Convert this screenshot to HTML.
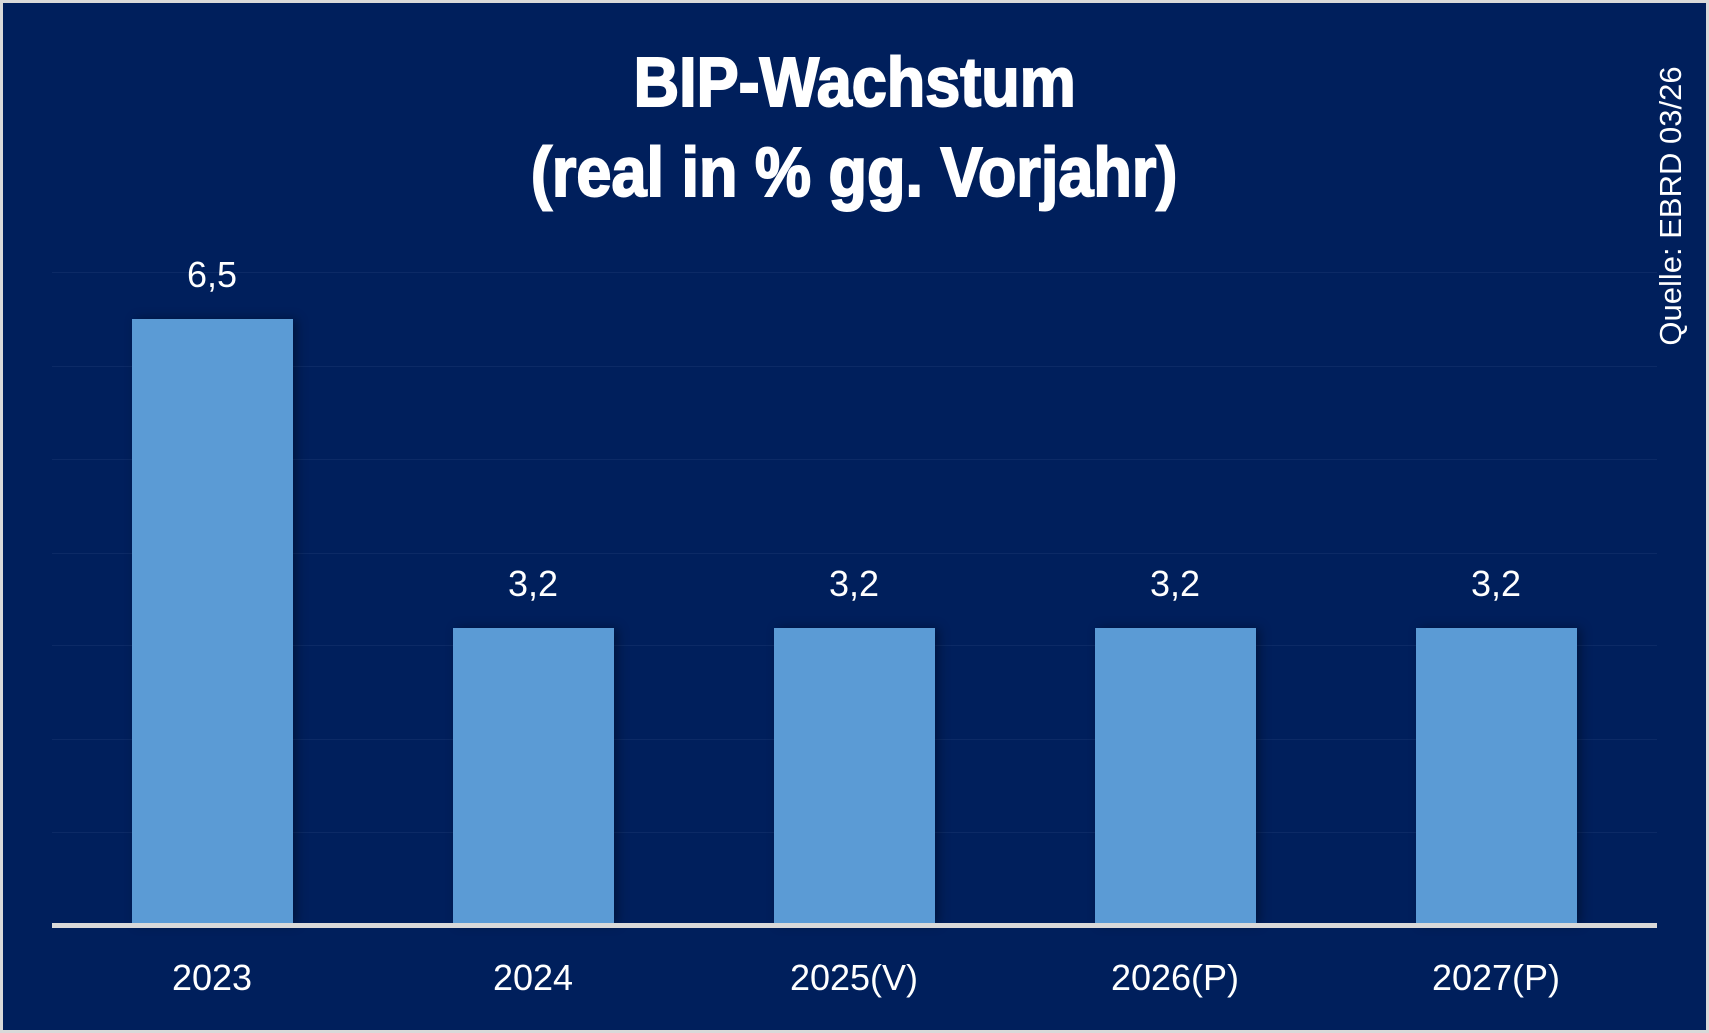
<!DOCTYPE html>
<html><head><meta charset="utf-8"><style>
html,body{margin:0;padding:0}
body{width:1709px;height:1033px;background:#d9d9d9;position:relative;overflow:hidden;font-family:"Liberation Sans",sans-serif}
.bg{position:absolute;left:3px;top:3px;width:1703px;height:1027px;background:#001f5c}
.t{position:absolute;color:#fff;font-weight:bold;white-space:nowrap;font-size:70px;left:0;width:1709px;text-align:center;-webkit-text-stroke:2px #fff}
.t span{display:inline-block;transform:scaleX(0.9)}
.g{position:absolute;left:52px;width:1605px;height:1px;background:#0c2a66}
.bar{position:absolute;width:161px;background:#5b9bd5;box-shadow:4px 0 10px rgba(0,0,0,.35)}
.v{position:absolute;color:#fff;font-size:36px;width:240px;text-align:center}
</style></head><body>
<div class="bg"></div>
<div class="t" style="top:42px;"><span>BIP-Wachstum</span></div>
<div class="t" style="top:132px;"><span>(real in % gg. Vorjahr)</span></div>
<div style="position:absolute;left:1671px;top:206px;color:#fff;font-size:31px;white-space:nowrap;transform:translate(-50%,-50%) rotate(-90deg)">Quelle: EBRD 03/26</div>
<div class="g" style="top:272px"></div><div class="g" style="top:366px"></div><div class="g" style="top:459px"></div><div class="g" style="top:553px"></div><div class="g" style="top:645px"></div><div class="g" style="top:739px"></div><div class="g" style="top:832px"></div>
<div class="bar" style="left:132px;top:319px;height:605px"></div>
<div class="bar" style="left:453px;top:628px;height:296px"></div>
<div class="bar" style="left:774px;top:628px;height:296px"></div>
<div class="bar" style="left:1095px;top:628px;height:296px"></div>
<div class="bar" style="left:1416px;top:628px;height:296px"></div>
<div style="position:absolute;left:52px;top:923px;width:1605px;height:5px;background:#d9d9d9"></div>
<div class="v" style="left:92px;top:254px">6,5</div>
<div class="v" style="left:413px;top:563px">3,2</div>
<div class="v" style="left:734px;top:563px">3,2</div>
<div class="v" style="left:1055px;top:563px">3,2</div>
<div class="v" style="left:1376px;top:563px">3,2</div>
<div class="v" style="left:92px;top:957px">2023</div>
<div class="v" style="left:413px;top:957px">2024</div>
<div class="v" style="left:734px;top:957px">2025(V)</div>
<div class="v" style="left:1055px;top:957px">2026(P)</div>
<div class="v" style="left:1376px;top:957px">2027(P)</div>
</body></html>
